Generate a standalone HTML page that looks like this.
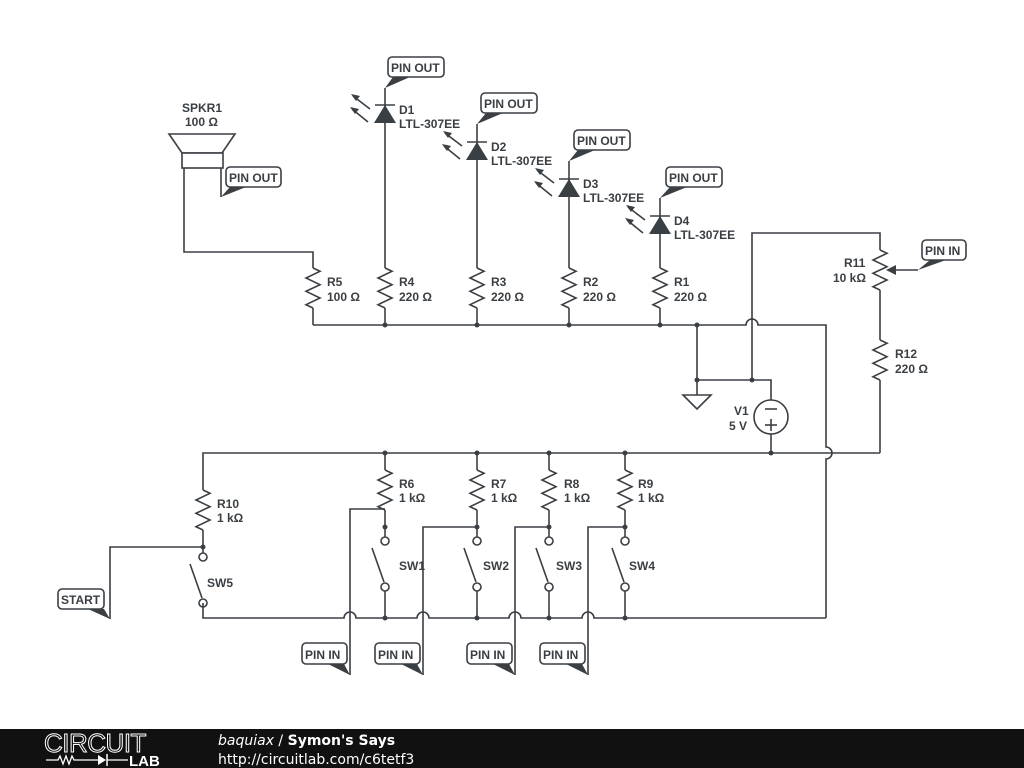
<!DOCTYPE html>
<html><head><meta charset="utf-8"><style>
html,body{margin:0;padding:0;background:#fff;width:1024px;height:768px;overflow:hidden}
svg{display:block}
text{font-family:"Liberation Sans","DejaVu Sans",sans-serif;font-size:12px;font-weight:bold;fill:#3a3f44}
.w{fill:none;stroke:#3a3f44;stroke-width:1.6}
.f{fill:#3a3f44}
.box{fill:#fff;stroke:#3a3f44;stroke-width:1.6}
</style></head><body>
<svg width="1024" height="768" viewBox="0 0 1024 768">
<defs>
<path id="r" class="w" d="M0,0 L7,3.3 L-7,10 L7,16.7 L-7,23.3 L7,30 L-7,36.7 L0,40"/>
<g id="led">
<line class="w" x1="-10" y1="0" x2="10" y2="0"/>
<polygon class="f" points="0,0 -11,18 11,18"/>
<line class="w" x1="-15" y1="4" x2="-32" y2="-9"/><polygon class="f" points="-34,-11 -25,-9 -29,-4"/>
<line class="w" x1="-17" y1="17" x2="-33" y2="4"/><polygon class="f" points="-35,2 -26,4 -30,9"/>
</g>
<g id="sw">
<circle class="box" cx="0" cy="0" r="4"/>
<circle class="box" cx="0" cy="46" r="4"/>
<line class="w" x1="-13" y1="7" x2="-1" y2="41"/>
</g>
</defs>

<!-- speaker -->
<polygon class="box" points="169,134 235,134 222,153 182,153"/>
<rect class="box" x="182" y="153" width="41" height="15"/>
<polyline class="w" points="184,168 184,252 313,252 313,268"/>
<line class="w" x1="221" y1="168" x2="221" y2="197"/>
<text x="182" y="112">SPKR1</text><text x="185" y="126">100 Ω</text>
<rect class="box" x="226" y="167" width="55" height="20" rx="4"/>
<polygon class="f" points="230,187 246,187 221,197"/>
<text x="229" y="182">PIN OUT</text>

<!-- top resistors -->
<use href="#r" x="313" y="268"/><text x="327" y="286">R5</text><text x="327" y="301">100 Ω</text>
<use href="#r" x="385" y="268"/><text x="399" y="286">R4</text><text x="399" y="301">220 Ω</text>
<use href="#r" x="477" y="268"/><text x="491" y="286">R3</text><text x="491" y="301">220 Ω</text>
<use href="#r" x="569" y="268"/><text x="583" y="286">R2</text><text x="583" y="301">220 Ω</text>
<use href="#r" x="660" y="268"/><text x="674" y="286">R1</text><text x="674" y="301">220 Ω</text>
<line class="w" x1="313" y1="308" x2="313" y2="325"/>
<line class="w" x1="385" y1="308" x2="385" y2="325"/>
<line class="w" x1="477" y1="308" x2="477" y2="325"/>
<line class="w" x1="569" y1="308" x2="569" y2="325"/>
<line class="w" x1="660" y1="308" x2="660" y2="325"/>
<path class="w" d="M313,325 H746 A6,6 0 0 1 758,325 H826 V447 A6,6 0 0 1 826,459 V618"/>
<g class="f"><circle cx="385" cy="325" r="2.5"/><circle cx="477" cy="325" r="2.5"/><circle cx="569" cy="325" r="2.5"/><circle cx="660" cy="325" r="2.5"/><circle cx="697" cy="325" r="2.5"/></g>

<!-- LEDs -->
<line class="w" x1="385" y1="88" x2="385" y2="268"/>
<line class="w" x1="477" y1="124" x2="477" y2="268"/>
<line class="w" x1="569" y1="161" x2="569" y2="268"/>
<line class="w" x1="660" y1="198" x2="660" y2="268"/>
<use href="#led" x="385" y="105"/><text x="399" y="114">D1</text><text x="399" y="128">LTL-307EE</text>
<use href="#led" x="477" y="142"/><text x="491" y="151">D2</text><text x="491" y="165">LTL-307EE</text>
<use href="#led" x="569" y="179"/><text x="583" y="188">D3</text><text x="583" y="202">LTL-307EE</text>
<use href="#led" x="660" y="216"/><text x="674" y="225">D4</text><text x="674" y="239">LTL-307EE</text>
<rect class="box" x="388" y="57" width="56" height="20" rx="4"/><polygon class="f" points="393,77 410,77 385,88"/><text x="391" y="72">PIN OUT</text>
<rect class="box" x="481" y="93" width="56" height="20" rx="4"/><polygon class="f" points="486,113 503,113 477,124"/><text x="484" y="108">PIN OUT</text>
<rect class="box" x="574" y="130" width="56" height="20" rx="4"/><polygon class="f" points="578,150 595,150 569,161"/><text x="577" y="145">PIN OUT</text>
<rect class="box" x="666" y="167" width="56" height="20" rx="4"/><polygon class="f" points="670,187 687,187 660,198"/><text x="669" y="182">PIN OUT</text>

<!-- ground / V1 -->
<polyline class="w" points="697,325 697,380 771,380 771,400"/>
<line class="w" x1="697" y1="380" x2="697" y2="395"/>
<polygon class="box" points="683,395 711,395 697,409"/>
<polyline class="w" points="752,380 752,233 880,233 880,250"/>
<g class="f"><circle cx="697" cy="380" r="2.5"/><circle cx="752" cy="380" r="2.5"/></g>
<circle class="box" cx="771" cy="417" r="17"/>
<line class="w" x1="765" y1="409" x2="777" y2="409"/>
<line class="w" x1="765" y1="425" x2="777" y2="425"/><line class="w" x1="771" y1="419" x2="771" y2="431"/>
<line class="w" x1="771" y1="434" x2="771" y2="453"/>
<text x="734" y="415">V1</text><text x="729" y="430">5 V</text>

<!-- R11 / R12 -->
<use href="#r" x="880" y="250"/>
<line class="w" x1="880" y1="290" x2="880" y2="340"/>
<use href="#r" x="880" y="340"/>
<polyline class="w" points="880,380 880,453"/>
<polyline class="w" points="918,270 890,270"/><polygon class="f" points="886,270 896,265 896,275"/>
<rect class="box" x="922" y="240" width="44" height="20" rx="4"/><polygon class="f" points="930,260 946,260 918,270"/><text x="925" y="255">PIN IN</text>
<text x="844" y="267">R11</text><text x="833" y="282">10 kΩ</text>
<text x="895" y="358">R12</text><text x="895" y="373">220 Ω</text>

<!-- bottom upper bus -->
<path class="w" d="M203,490 V453 H880"/>
<g class="f"><circle cx="385" cy="453" r="2.5"/><circle cx="477" cy="453" r="2.5"/><circle cx="549" cy="453" r="2.5"/><circle cx="625" cy="453" r="2.5"/><circle cx="771" cy="453" r="2.5"/></g>

<!-- R10 / SW5 -->
<use href="#r" x="203" y="490"/>
<line class="w" x1="203" y1="530" x2="203" y2="553"/>
<circle class="f" cx="203" cy="547" r="2.5"/>
<use href="#sw" x="203" y="557"/>
<text x="217" y="508">R10</text><text x="217" y="522">1 kΩ</text>
<text x="207" y="587">SW5</text>
<polyline class="w" points="203,547 110,547 110,619"/>
<rect class="box" x="58" y="589" width="46" height="20" rx="4"/><polygon class="f" points="88,609 104,609 110,619"/><text x="61" y="604">START</text>

<!-- switch columns -->
<g>
<line class="w" x1="385" y1="453" x2="385" y2="470"/><use href="#r" x="385" y="470"/><line class="w" x1="385" y1="510" x2="385" y2="537"/>
<circle class="f" cx="385" cy="527" r="2.5"/><use href="#sw" x="385" y="541"/><line class="w" x1="385" y1="591" x2="385" y2="618"/>
<text x="399" y="488">R6</text><text x="399" y="502">1 kΩ</text><text x="399" y="570">SW1</text>
<polyline class="w" points="385,509 350,509 350,675"/>

<line class="w" x1="477" y1="453" x2="477" y2="470"/><use href="#r" x="477" y="470"/><line class="w" x1="477" y1="510" x2="477" y2="537"/>
<circle class="f" cx="477" cy="527" r="2.5"/><use href="#sw" x="477" y="541"/><line class="w" x1="477" y1="591" x2="477" y2="618"/>
<text x="491" y="488">R7</text><text x="491" y="502">1 kΩ</text><text x="483" y="570">SW2</text>
<polyline class="w" points="477,527 423,527 423,675"/>

<line class="w" x1="549" y1="453" x2="549" y2="470"/><use href="#r" x="549" y="470"/><line class="w" x1="549" y1="510" x2="549" y2="537"/>
<circle class="f" cx="549" cy="527" r="2.5"/><use href="#sw" x="549" y="541"/><line class="w" x1="549" y1="591" x2="549" y2="618"/>
<text x="564" y="488">R8</text><text x="564" y="502">1 kΩ</text><text x="556" y="570">SW3</text>
<polyline class="w" points="549,527 515,527 515,675"/>

<line class="w" x1="625" y1="453" x2="625" y2="470"/><use href="#r" x="625" y="470"/><line class="w" x1="625" y1="510" x2="625" y2="537"/>
<circle class="f" cx="625" cy="527" r="2.5"/><use href="#sw" x="625" y="541"/><line class="w" x1="625" y1="591" x2="625" y2="618"/>
<text x="638" y="488">R9</text><text x="638" y="502">1 kΩ</text><text x="629" y="570">SW4</text>
<polyline class="w" points="625,527 588,527 588,675"/>
</g>

<!-- bottom bus with hops -->
<path class="w" d="M203,603 V618 H344 A6,6 0 0 1 356,618 H417 A6,6 0 0 1 429,618 H509 A6,6 0 0 1 521,618 H582 A6,6 0 0 1 594,618 H826"/>
<g class="f"><circle cx="385" cy="618" r="2.5"/><circle cx="477" cy="618" r="2.5"/><circle cx="549" cy="618" r="2.5"/><circle cx="625" cy="618" r="2.5"/></g>

<rect class="box" x="302" y="643" width="45" height="21" rx="4"/><polygon class="f" points="328,664 344,664 350,675"/><text x="305" y="659">PIN IN</text>
<rect class="box" x="375" y="643" width="45" height="21" rx="4"/><polygon class="f" points="401,664 417,664 423,675"/><text x="378" y="659">PIN IN</text>
<rect class="box" x="467" y="643" width="45" height="21" rx="4"/><polygon class="f" points="493,664 509,664 515,675"/><text x="470" y="659">PIN IN</text>
<rect class="box" x="540" y="643" width="45" height="21" rx="4"/><polygon class="f" points="566,664 582,664 588,675"/><text x="543" y="659">PIN IN</text>

<!-- footer -->
<rect x="0" y="729" width="1024" height="39" fill="#111"/>
<text x="44" y="752" style="font-size:26px;font-weight:normal;fill:none;stroke:#fff;stroke-width:1;letter-spacing:-0.5px">CIRCUIT</text>
<path d="M46,760 H58 L60,756 L63,764 L66,756 L69,764 L72,756 L74,760 H98" fill="none" stroke="#fff" stroke-width="1.3"/>
<polygon points="98,755 98,765 106,760" fill="#fff"/><line x1="107" y1="754" x2="107" y2="766" stroke="#fff" stroke-width="1.5"/>
<line x1="107" y1="760" x2="128" y2="760" stroke="#fff" stroke-width="1.3"/>
<text x="129" y="766" style="font-size:15px;font-weight:bold;fill:#fff">LAB</text>
<text x="218" y="745" style="font-size:14px;font-weight:normal;fill:#fff;font-family:'DejaVu Sans',sans-serif"><tspan font-style="italic">baquiax</tspan> / <tspan font-weight="bold">Symon's Says</tspan></text>
<text x="218" y="764" style="font-size:14px;font-weight:normal;fill:#fff;font-family:'DejaVu Sans',sans-serif">http://circuitlab.com/c6tetf3</text>
</svg>
</body></html>
